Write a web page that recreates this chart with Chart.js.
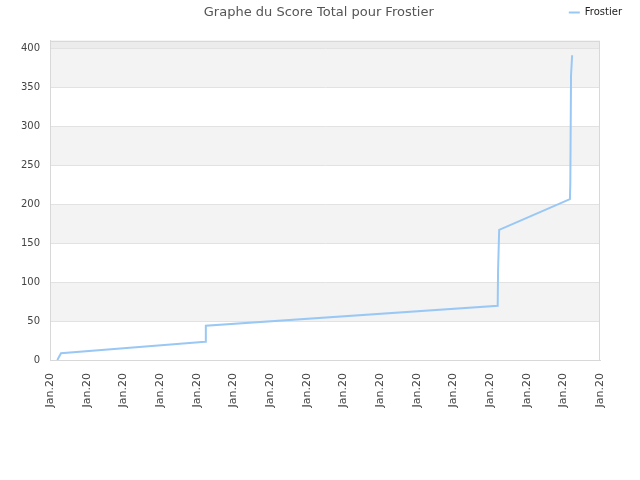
<!DOCTYPE html>
<html>
<head>
<meta charset="utf-8">
<script src="https://cdn.jsdelivr.net/npm/chart.js@4"></script>
<style>
	html, body { margin: 0; padding: 0; background: #fff; }
	#wrap { width: 640px; height: 480px; }
</style>
</head>
<body>
<div id="wrap"><canvas id="score-chart"></canvas></div>
<script>
// valeurs (x : position dans la période, y : score)
const xTickLabels = [
	"Jan.20", "Jan.20", "Jan.20", "Jan.20", "Jan.20", "Jan.20", "Jan.20", "Jan.20",
	"Jan.20", "Jan.20", "Jan.20", "Jan.20", "Jan.20", "Jan.20", "Jan.20", "Jan.20",
];
const scoreX = [0.2, 0.3, 4.23, 4.25, 12.21, 12.22, 12.25, 14.18, 14.19, 14.21, 14.24];
const scoreY = [0, 8.6, 23.5, 44, 69.5, 115, 167, 206.5, 226, 365, 391];
const yTicks = [0, 50, 100, 150, 200, 250, 300, 350, 400];
const playerName = "Frostier";

const lineColor = "#9ac8f4";
const frameColor = "#d8d8d8";

// bandes grises alternées derrière la grille, puis le cadre
const bandsPlugin = {
	id: "bands",
	beforeDraw(chart) {
		const { ctx, chartArea } = chart;
		const y = chart.scales.y;
		ctx.save();
		for (let i = 0; i < yTicks.length - 1; i++) {
			if (i % 2 === 0) continue;
			const top = y.getPixelForValue(yTicks[i + 1]);
			const bottom = y.getPixelForValue(yTicks[i]);
			ctx.fillStyle = "#f3f3f3";
			ctx.fillRect(chartArea.left, top, chartArea.right - chartArea.left, bottom - top);
		}
		const last = y.getPixelForValue(yTicks[yTicks.length - 1]);
		ctx.fillStyle = "#ececec";
		ctx.fillRect(chartArea.left, chartArea.top, chartArea.right - chartArea.left, last - chartArea.top);
		ctx.restore();
	},
	beforeDatasetsDraw(chart) {
		const { ctx, chartArea } = chart;
		ctx.save();
		ctx.strokeStyle = frameColor;
		ctx.lineWidth = 1;
		ctx.strokeRect(
			Math.round(chartArea.left) + 0.5,
			Math.round(chartArea.top) + 0.5,
			Math.round(chartArea.right - chartArea.left) - 1,
			Math.round(chartArea.bottom - chartArea.top) - 1
		);
		ctx.restore();
	},
};

// axe vide qui ne sert qu'à réserver de la place
const spacer = (size) => ({
	display: true,
	type: "linear",
	grid: { display: false, drawTicks: false },
	border: { display: false },
	ticks: { display: false },
	afterFit: (s) => {
		if (s.isHorizontal()) s.height = size;
		else s.width = size;
	},
});

const ctx = document.getElementById("score-chart").getContext("2d");
new Chart(ctx, {
	type: "line",
	data: {
		datasets: [
			{
				label: playerName,
				data: scoreX.map((x, i) => ({ x: x, y: scoreY[i] })),
				borderColor: lineColor,
				backgroundColor: lineColor,
				borderWidth: 2,
				pointRadius: 0,
				pointStyle: "line",
				tension: 0,
			},
		],
	},
	options: {
		responsive: true,
		maintainAspectRatio: false,
		animation: false,
		layout: { padding: { top: 0, right: 10.5, bottom: 0, left: 8 } },
		scales: {
			x: {
				type: "linear",
				min: 0,
				max: 15,
				afterBuildTicks: (s) => {
					s.ticks = xTickLabels.map((_, i) => ({ value: i }));
				},
				afterFit: (s) => {
					s.height = 120;
				},
				grid: { display: false, drawTicks: false },
				border: { color: frameColor },
				ticks: {
					callback: (v, i) => xTickLabels[i],
					minRotation: 90,
					maxRotation: 90,
					padding: 13,
					color: "#444",
					font: { family: "DejaVu Sans", size: 11 },
					autoSkip: false,
				},
			},
			y: {
				min: 0,
				max: 410,
				afterBuildTicks: (s) => {
					s.ticks = yTicks.map((v) => ({ value: v }));
				},
				afterFit: (s) => {
					s.width = 42;
				},
				grid: { color: "#e2e2e2", drawTicks: false },
				border: { color: frameColor },
				ticks: {
					padding: 10,
					color: "#444",
					font: { family: "DejaVu Sans", size: 10 },
				},
			},
			topGap: { ...spacer(13), position: "top" },
			rightGap: { ...spacer(29.5), position: "right" },
		},
		plugins: {
			title: {
				display: true,
				text: "Graphe du Score Total pour " + playerName,
				color: "#555",
				font: { family: "DejaVu Sans", size: 13, weight: "normal" },
				// hauteur nulle : la légende se place sur la même ligne
				padding: { top: 5, bottom: -20.6 },
			},
			legend: {
				display: true,
				position: "top",
				align: "end",
				labels: {
					usePointStyle: true,
					pointStyleWidth: 11,
					boxHeight: 2,
					padding: 7.5,
					color: "#222",
					font: { family: "DejaVu Sans", size: 10 },
				},
			},
			tooltip: { enabled: false },
		},
	},
	plugins: [bandsPlugin],
});
</script>
</body>
</html>
